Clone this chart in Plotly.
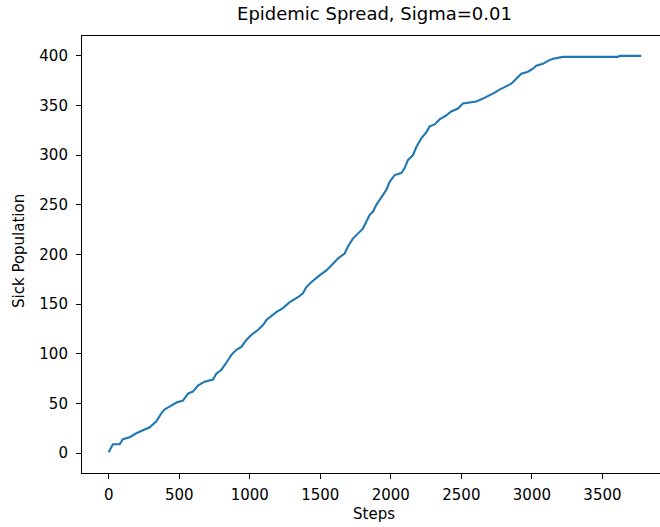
import plotly.graph_objects as go

# Sick population over simulation steps
steps = [0, 30, 78, 101, 149, 196, 243, 291, 338, 373,
         397, 444, 480, 527, 562, 597, 633, 680, 739, 763,
         799, 834, 870, 905, 940, 976, 1011, 1058, 1094, 1118,
         1188, 1235, 1283, 1342, 1377, 1400, 1436, 1495, 1543, 1578,
         1625, 1673, 1696, 1731, 1767, 1802, 1826, 1850, 1873, 1897,
         1921, 1968, 1991, 2027, 2074, 2098, 2121, 2157, 2180, 2216,
         2251, 2275, 2310, 2346, 2393, 2428, 2476, 2511, 2558, 2606,
         2653, 2700, 2736, 2771, 2818, 2854, 2889, 2925, 2972, 3007,
         3031, 3078, 3113, 3149, 3184, 3220, 3610, 3622, 3775]
sick = [1, 9, 9, 14, 16, 20, 23, 26, 32, 40,
        44, 48, 51, 53, 60, 62, 68, 72, 74, 80,
        84, 91, 99, 104, 107, 114, 119, 124, 129, 134,
        142, 146, 152, 157, 161, 167, 172, 179, 184, 189,
        196, 201, 208, 216, 221, 226, 233, 240, 243, 250,
        255, 265, 273, 280, 282, 287, 295, 300, 308, 317,
        323, 329, 331, 336, 340, 344, 347, 352, 353, 354,
        357, 360, 363, 366, 369, 372, 377, 382, 384, 387,
        390, 392, 395, 397, 398, 399, 399, 400, 400]

x_ticks = [0, 500, 1000, 1500, 2000, 2500, 3000, 3500]
y_ticks = [0, 50, 100, 150, 200, 250, 300, 350, 400]

title_text = "Epidemic Spread, Sigma=0.01"
x_label = "Steps"
y_label = "Sick Population"

FONT = "DejaVu Sans"

fig = go.Figure(go.Scatter(
    x=steps, y=sick, mode="lines",
    line=dict(color="#1f77b4", width=2.1),
    hoverinfo="skip",
))

axis_common = dict(
    showgrid=False, zeroline=False,
    showline=True, linecolor="black", linewidth=1.1,
    ticks="outside", ticklen=5, tickwidth=1.1, tickcolor="black",
    tickfont=dict(family=FONT, size=15, color="black"),
)

fig.update_xaxes(range=[-189, 3908], tickvals=x_ticks, mirror=True,
                 ticklabelstandoff=3, **axis_common)
fig.update_yaxes(range=[-20, 420], tickvals=y_ticks, mirror=False,
                 ticklabelstandoff=5, **axis_common)

fig.update_layout(
    width=660, height=527,
    margin=dict(l=82, r=0, t=36, b=54),
    paper_bgcolor="white", plot_bgcolor="white",
    showlegend=False,
    title=dict(text=title_text, x=0.506, xref="paper", xanchor="center",
               y=1 - 14 / 527, yref="container", yanchor="middle",
               font=dict(family=FONT, size=18, color="black")),
    annotations=[
        dict(text=x_label, x=0.506, y=-0.094, xref="paper", yref="paper",
             xanchor="center", yanchor="middle", showarrow=False,
             font=dict(family=FONT, size=15, color="black")),
        dict(text=y_label, x=-0.109, y=0.508, xref="paper", yref="paper",
             xanchor="center", yanchor="middle", showarrow=False, textangle=-90,
             font=dict(family=FONT, size=15, color="black")),
    ],
)

fig.write_html("out.html")
